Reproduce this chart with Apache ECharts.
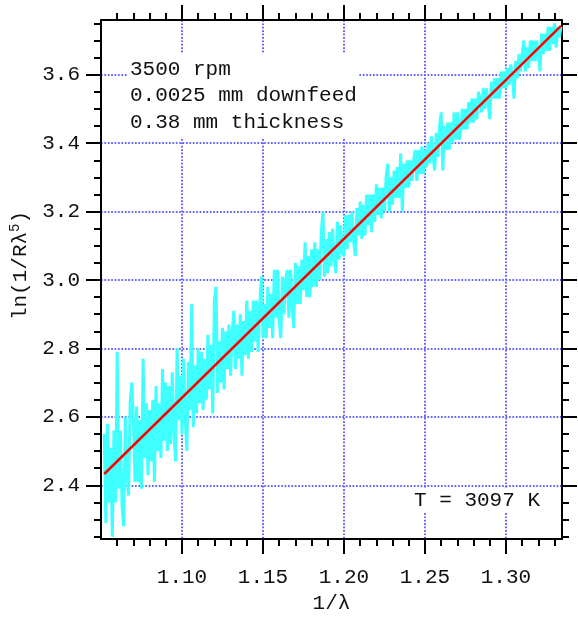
<!DOCTYPE html>
<html>
<head>
<meta charset="utf-8">
<script src="https://cdn.jsdelivr.net/npm/echarts@6/dist/echarts.min.js"></script>
<style>
  html, body { margin: 0; padding: 0; background: #fff; }
  #chart { width: 578px; height: 620px; }
</style>
</head>
<body>
<div id="chart"></div>
<script>
// Spectral samples: evenly spaced in 1/λ (µm⁻¹), starting at xStart with step xStep
const xStart = 1.052;
const xStep = 0.001;
const lnValues = [
  2.55,2.29,2.58,2.35,2.51,2.25,2.56,2.35,2.79,2.39,
  2.56,2.34,2.28,2.60,2.44,2.37,2.64,2.70,2.59,2.41,
  2.63,2.41,2.59,2.39,2.77,2.48,2.64,2.43,2.62,2.47,
  2.65,2.41,2.69,2.50,2.64,2.48,2.74,2.53,2.70,2.50,
  2.69,2.52,2.73,2.56,2.47,2.80,2.59,2.72,2.55,2.77,
  2.59,2.50,2.76,2.62,2.93,2.57,2.75,2.61,2.80,2.64,
  2.79,2.62,2.77,2.65,2.84,2.68,2.81,2.61,2.94,2.98,
  2.67,2.82,2.70,2.86,2.68,2.85,2.74,2.87,2.72,2.85,
  2.91,2.74,2.87,2.77,2.90,2.72,2.88,2.78,2.94,2.77,
  2.91,2.79,2.94,2.82,2.94,2.79,2.93,3.01,2.83,2.93,
  2.83,2.98,2.86,2.96,2.83,3.03,2.89,3.03,2.88,2.83,
  3.01,2.90,3.00,3.03,2.89,3.03,2.92,2.86,3.05,2.93,
  3.04,2.93,3.06,2.97,3.11,2.95,3.07,2.95,3.09,2.98,
  3.11,2.98,3.09,3.00,3.14,3.20,3.01,3.12,3.02,3.14,
  3.04,3.15,3.06,3.02,3.17,3.06,3.16,3.08,3.07,3.19,
  3.09,3.19,3.11,3.20,3.11,3.07,3.21,3.13,3.23,3.12,
  3.22,3.13,3.25,3.16,3.25,3.14,3.25,3.17,3.28,3.19,
  3.27,3.18,3.27,3.20,3.30,3.34,3.20,3.30,3.22,3.32,
  3.24,3.33,3.24,3.37,3.20,3.34,3.27,3.35,3.27,3.35,
  3.29,3.35,3.38,3.29,3.38,3.31,3.39,3.31,3.38,3.33,
  3.40,3.34,3.42,3.36,3.32,3.43,3.36,3.45,3.49,3.32,
  3.45,3.38,3.46,3.38,3.46,3.40,3.49,3.41,3.49,3.41,
  3.43,3.50,3.44,3.50,3.44,3.52,3.46,3.53,3.46,3.53,
  3.47,3.55,3.53,3.49,3.56,3.50,3.56,3.52,3.47,3.58,
  3.53,3.59,3.53,3.59,3.53,3.61,3.56,3.61,3.56,3.62,
  3.57,3.63,3.59,3.53,3.64,3.59,3.66,3.61,3.66,3.70,
  3.61,3.68,3.62,3.70,3.64,3.70,3.64,3.70,3.66,3.61,
  3.72,3.66,3.72,3.67,3.74,3.67,3.74,3.69,3.75,3.68,3.74,3.71,3.74
];

// Straight-line fit through the spectrum (endpoints)
const fitX = [1.052, 1.334];
const fitY = [2.433, 3.743];

// Tick positions
const xMajor = [1.10, 1.15, 1.20, 1.25, 1.30];
const xMinor = [1.06,1.07,1.08,1.09,1.11,1.12,1.13,1.14,1.16,1.17,1.18,1.19,
                1.21,1.22,1.23,1.24,1.26,1.27,1.28,1.29,1.31,1.32,1.33];
const yMajor = [2.4, 2.6, 2.8, 3.0, 3.2, 3.4, 3.6];
const yMinor = [2.25,2.30,2.35,2.45,2.50,2.55,2.65,2.70,2.75,2.85,2.90,2.95,
                3.05,3.10,3.15,3.25,3.30,3.35,3.45,3.50,3.55,3.65,3.70,3.75];

// Annotations
const notes = ['3500 rpm', '0.0025 mm downfeed', '0.38 mm thickness'];
const tempLabel = 'T = 3097 K';
const xTitle = '1/λ';
const yTitle = '{a|ln(1/Rλ}{s|5}{a|)}';

const FONT = '"Liberation Mono", "DejaVu Sans Mono", monospace';
const FS = 21;
const INK = '#111';
const xRange = { min: 1.05, max: 1.3346 };
const yRange = { min: 2.243, max: 3.76 };
const frame = { color: '#000', width: 2 };
const gridLine = { color: '#6464ff', width: 2, type: [1.7, 1.7] };

const spectrum = lnValues.map((v, i) => [xStart + i * xStep, v]);
const fitLine = fitX.map((x, i) => [x, fitY[i]]);

function xAxisDef(position, ticks, len, main) {
  return Object.assign({
    type: 'value', position: position,
    min: xRange.min, max: xRange.max,
    axisLine: { show: !!main || position === 'top' && len > 10, onZero: false, lineStyle: frame },
    axisTick: { show: true, inside: false, length: len, customValues: ticks, lineStyle: frame },
    axisLabel: { show: false },
    splitLine: { show: false }
  }, main || {});
}
function yAxisDef(position, ticks, len, main) {
  return Object.assign({
    type: 'value', position: position,
    min: yRange.min, max: yRange.max,
    axisLine: { show: !!main || position === 'right' && len > 10, onZero: false, lineStyle: frame },
    axisTick: { show: true, inside: false, length: len, customValues: ticks, lineStyle: frame },
    axisLabel: { show: false },
    splitLine: { show: false }
  }, main || {});
}

const chart = echarts.init(document.getElementById('chart'));
chart.setOption({
  animation: false,
  backgroundColor: '#fff',
  grid: { left: 101, right: 16, top: 20, bottom: 81, containLabel: false },
  xAxis: [
    xAxisDef('bottom', xMajor, 15, {
      axisLabel: { show: true, customValues: xMajor, formatter: v => v.toFixed(2),
                   margin: 28, fontFamily: FONT, fontSize: FS, color: INK },
      splitLine: { show: true, lineStyle: gridLine },
      name: xTitle, nameLocation: 'middle', nameGap: 52,
      nameTextStyle: { fontFamily: FONT, fontSize: FS, color: INK }
    }),
    xAxisDef('top', xMajor, 15),
    xAxisDef('bottom', xMinor, 7),
    xAxisDef('top', xMinor, 7)
  ],
  yAxis: [
    yAxisDef('left', yMajor, 15, {
      axisLabel: { show: true, customValues: yMajor, formatter: v => v.toFixed(1),
                   margin: 21, fontFamily: FONT, fontSize: FS, color: INK },
      splitLine: { show: true, lineStyle: gridLine },
      name: yTitle, nameLocation: 'middle', nameRotate: 90, nameGap: 68,
      nameTextStyle: {
        padding: [0, 0, 0, 28],
        rich: {
          a: { fontFamily: FONT, fontSize: 21, color: INK, lineHeight: 24 },
          s: { fontFamily: FONT, fontSize: 14, color: INK, lineHeight: 24, verticalAlign: 'top' }
        }
      }
    }),
    yAxisDef('right', yMajor, 15),
    yAxisDef('left', yMinor, 7),
    yAxisDef('right', yMinor, 7)
  ],
  series: [
    {
      type: 'line', xAxisIndex: 0, yAxisIndex: 0,
      data: spectrum, showSymbol: false, silent: true,
      lineStyle: { color: '#3fffff', width: 3 }, z: 2
    },
    {
      type: 'line', xAxisIndex: 0, yAxisIndex: 0,
      data: fitLine, showSymbol: false, silent: true,
      lineStyle: { color: '#ff0000', width: 2.5 }, z: 3
    }
  ],
  graphic: [
    {
      type: 'text', left: 128, top: 54, z: 100,
      style: {
        text: notes.join('\n'), fontFamily: FONT, fontSize: FS, fill: INK,
        lineHeight: 26.5, backgroundColor: '#fff', padding: [2, 2, 2, 2]
      }
    },
    {
      type: 'text', left: 412, top: 488, z: 100,
      style: {
        text: tempLabel, fontFamily: FONT, fontSize: FS, fill: INK,
        backgroundColor: '#fff', padding: [2, 2, 2, 2]
      }
    }
  ]
});
</script>
</body>
</html>
